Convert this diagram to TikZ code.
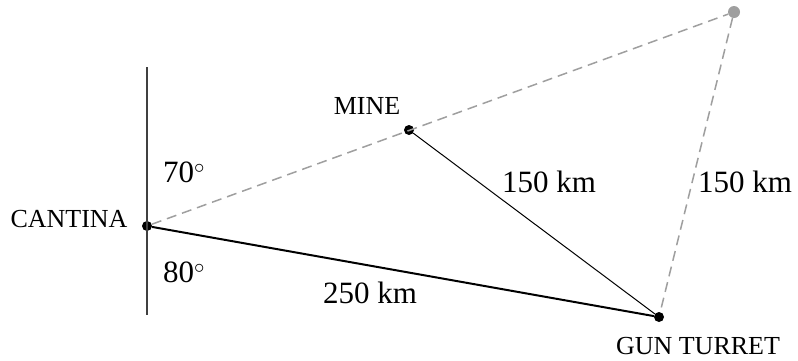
\documentclass[tikz,border=0pt]{standalone}
\usepackage{fontspec}
\setmainfont{Liberation Serif}
\begin{document}
\begin{tikzpicture}[x=1pt, y=-1pt]
      \tikzset{dot/.style={circle, fill=black, inner sep=0pt, minimum size=10pt},
        place/.style={font=\fontsize{26}{30}\selectfont},
        dist/.style={font=\fontsize{31}{34}\selectfont},
        route/.style={gray!75, line width=1.5pt, dash pattern=on 10pt off 6pt}}
      \useasboundingbox (0,0) rectangle (798,360);
      \coordinate (north) at (147,67);
      \coordinate (south) at (147,315);
      \node[dot] (cantina) at (147,226) {};
      \node[dot] (mine) at (409,130) {};
      \node[dot] (turret) at (659,317) {};
      \node[dot, fill=gray!75, minimum size=12pt] (far) at (734,12) {};
      \node[place] (cantinalbl) at (69,219) {CANTINA};
      \node[place] (minelbl) at (367,106) {MINE};
      \node[place] (turretlbl) at (698,346) {GUN TURRET};
      \node[dist] (minegun) at (549,182) {150 km};
      \node[dist] (fargun) at (745,182) {150 km};
      \node[dist] (cantgun) at (370,293) {250 km};
      \node[dist] (upper) at (184,172) {70$^\circ$};
      \node[dist] (lower) at (184,272) {80$^\circ$};
      \draw[black!75, line width=2.2pt] (north) -- (south);
      \draw[route] (cantina) -- (far);
      \draw[route] (far) -- (turret);
      \draw[line width=2pt] (cantina) -- (turret);
      \draw[line width=1pt] (mine) -- (turret);
    \end{tikzpicture}
\end{document}
